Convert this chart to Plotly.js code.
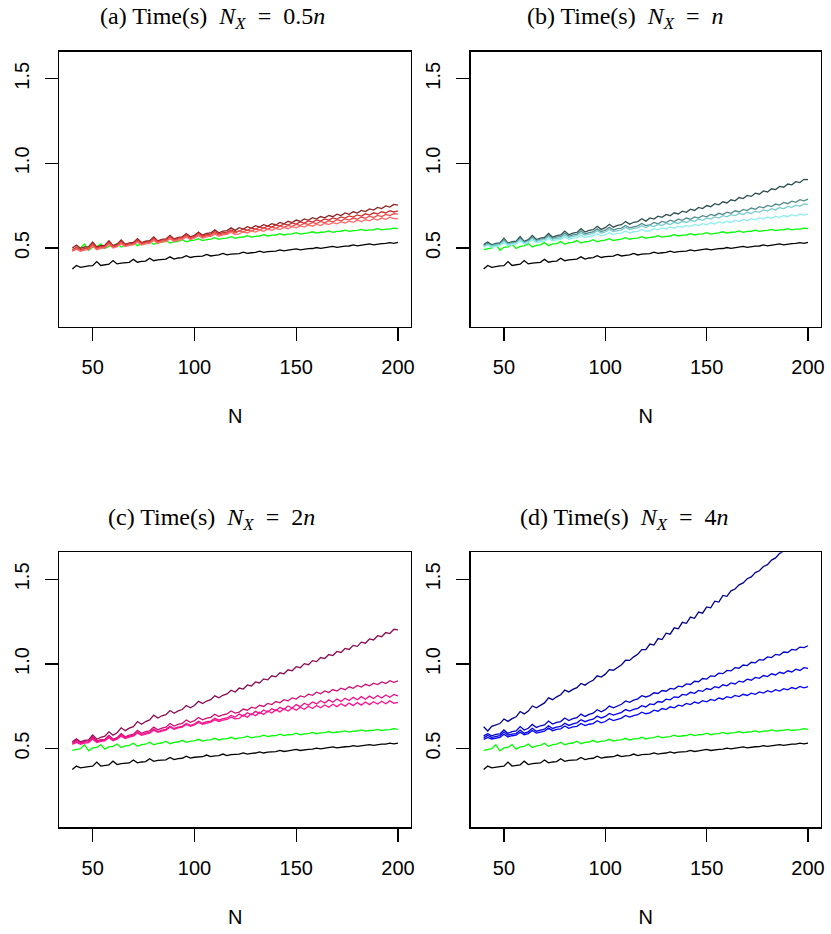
<!DOCTYPE html>
<html><head><meta charset="utf-8">
<script src="https://cdn.plot.ly/plotly-3.0.1.min.js"></script>
<style>html,body{margin:0;padding:0;background:#fff}#chart{width:831px;height:934px}</style>
</head><body><div id="chart"></div>
<script>
const N = [40,42,44,46,48,50,52,54,56,58,60,62,64,66,68,70,72,74,76,78,80,82,84,86,88,90,92,94,96,98,100,102,104,106,108,110,112,114,116,118,120,122,124,126,128,130,132,134,136,138,140,142,144,146,148,150,152,154,156,158,160,162,164,166,168,170,172,174,176,178,180,182,184,186,188,190,192,194,196,198,200];

const timeBlack = [.376,.397,.386,.391,.394,.396,.420,.397,.402,.404,
.426,.406,.411,.413,.415,.433,.416,.421,.423,.440,
.425,.430,.432,.434,.448,.435,.441,.443,.455,.444,
.449,.451,.452,.462,.453,.457,.459,.468,.459,.464,
.466,.467,.475,.468,.472,.474,.481,.474,.479,.481,
.482,.489,.483,.487,.489,.495,.489,.494,.496,.497,
.503,.498,.502,.504,.510,.504,.509,.511,.512,.518,
.513,.517,.519,.524,.519,.524,.526,.527,.532,.528,
.533];

const timeGreen = [.490,.496,.500,.523,.487,.504,.507,.524,.497,.510,
.513,.527,.506,.516,.519,.532,.514,.524,.526,.538,
.522,.531,.533,.544,.529,.537,.539,.549,.537,.544,
.546,.555,.544,.550,.552,.561,.551,.557,.558,.567,
.557,.563,.565,.573,.564,.569,.571,.579,.571,.576,
.577,.585,.577,.582,.583,.591,.582,.587,.589,.596,
.588,.593,.594,.601,.593,.598,.599,.605,.598,.603,
.604,.610,.603,.607,.608,.614,.607,.611,.612,.618,
.614];

// (a) N_X = 0.5n
const a1 = [.500,.517,.498,.506,.508,.535,.506,.514,.516,.543,
.514,.523,.547,.522,.530,.533,.555,.532,.540,.543,
.565,.542,.551,.554,.575,.554,.563,.566,.585,.566,
.575,.594,.576,.586,.589,.607,.590,.600,.603,.619,
.604,.620,.612,.626,.618,.632,.624,.638,.630,.644,
.636,.651,.643,.658,.650,.665,.657,.672,.664,.679,
.671,.686,.678,.693,.685,.700,.692,.707,.699,.714,
.706,.722,.715,.731,.724,.740,.733,.749,.742,.758,
.754];
const a2 = [.490,.505,.490,.498,.500,.525,.500,.508,.510,.535,
.510,.518,.540,.518,.525,.528,.548,.528,.535,.538,
.558,.538,.546,.549,.568,.550,.558,.561,.579,.562,
.570,.587,.571,.579,.582,.597,.583,.591,.594,.607,
.595,.599,.612,.605,.618,.611,.624,.617,.630,.623,
.636,.629,.642,.635,.648,.641,.654,.647,.660,.653,
.666,.659,.672,.665,.678,.671,.684,.677,.690,.683,
.696,.689,.702,.695,.708,.701,.714,.707,.720,.713,
.720];
const a3 = [.485,.498,.485,.493,.495,.518,.495,.503,.505,.528,
.505,.513,.533,.513,.520,.523,.541,.523,.530,.533,
.551,.533,.541,.543,.561,.544,.552,.555,.571,.555,
.563,.578,.564,.572,.575,.589,.576,.584,.587,.600,
.588,.602,.594,.607,.600,.613,.605,.618,.611,.623,
.616,.629,.622,.634,.627,.640,.633,.646,.638,.651,
.644,.657,.649,.662,.654,.667,.660,.672,.665,.677,
.670,.683,.675,.688,.680,.693,.686,.698,.691,.703,
.700];
const a4 = [.480,.493,.480,.488,.490,.511,.490,.498,.500,.521,
.500,.508,.526,.508,.515,.518,.535,.518,.525,.528,
.545,.528,.536,.538,.555,.539,.547,.550,.565,.550,
.558,.573,.558,.566,.569,.582,.569,.577,.580,.592,
.580,.584,.596,.589,.601,.594,.606,.599,.611,.604,
.616,.609,.621,.614,.626,.619,.631,.624,.636,.629,
.641,.633,.646,.638,.650,.643,.655,.647,.659,.652,
.664,.656,.668,.661,.673,.665,.677,.669,.682,.674,
.674];

// (b) N_X = n
const b1 = [.520,.535,.519,.528,.530,.558,.529,.538,.540,.568,
.539,.549,.574,.550,.559,.563,.586,.564,.573,.577,
.600,.578,.588,.592,.614,.594,.604,.608,.628,.610,
.620,.640,.623,.634,.638,.657,.641,.652,.656,.673,
.659,.678,.671,.688,.681,.698,.691,.708,.701,.718,
.711,.729,.722,.740,.733,.751,.744,.762,.755,.773,
.766,.785,.779,.798,.792,.811,.805,.824,.818,.837,
.831,.850,.845,.864,.859,.878,.873,.892,.887,.906,
.904];
const b2 = [.515,.528,.515,.523,.525,.550,.525,.533,.535,.560,
.535,.543,.566,.544,.552,.555,.576,.556,.564,.567,
.588,.569,.577,.581,.600,.583,.591,.595,.613,.597,
.605,.622,.606,.615,.618,.633,.619,.627,.631,.645,
.632,.636,.651,.643,.657,.650,.664,.656,.670,.663,
.677,.670,.684,.677,.691,.684,.698,.691,.705,.698,
.712,.705,.720,.713,.728,.721,.736,.729,.744,.737,
.752,.745,.760,.754,.769,.762,.777,.770,.786,.779,
.789];
const b3 = [.510,.521,.511,.518,.520,.541,.521,.528,.530,.551,
.531,.538,.557,.539,.546,.549,.567,.551,.557,.560,
.578,.562,.569,.573,.590,.575,.582,.585,.602,.588,
.595,.610,.597,.604,.607,.621,.609,.616,.619,.632,
.621,.634,.627,.640,.633,.646,.639,.652,.645,.658,
.651,.664,.658,.671,.664,.678,.671,.684,.677,.691,
.684,.697,.691,.704,.698,.711,.704,.718,.711,.725,
.718,.732,.725,.739,.732,.746,.740,.753,.747,.760,
.758];
const b4 = [.505,.515,.506,.512,.514,.532,.515,.521,.523,.541,
.524,.531,.547,.532,.538,.541,.556,.542,.548,.551,
.566,.552,.558,.561,.575,.562,.568,.571,.584,.572,
.578,.591,.579,.586,.588,.601,.589,.596,.598,.610,
.599,.602,.614,.607,.619,.612,.624,.617,.629,.622,
.634,.627,.639,.632,.644,.637,.649,.642,.654,.647,
.659,.651,.664,.656,.669,.661,.673,.666,.678,.671,
.683,.675,.688,.680,.692,.685,.697,.689,.701,.694,
.700];

// (c) N_X = 2n
const c1 = [.540,.558,.540,.549,.552,.580,.555,.567,.573,.599,
.579,.594,.623,.606,.621,.630,.660,.644,.660,.670,
.698,.681,.694,.701,.725,.709,.723,.731,.755,.741,
.755,.779,.766,.781,.789,.812,.800,.815,.823,.845,
.834,.858,.852,.876,.870,.894,.888,.912,.906,.930,
.924,.948,.942,.966,.960,.984,.978,1.002,.996,1.020,
1.014,1.038,1.032,1.056,1.050,1.074,1.068,1.092,1.086,1.110,
1.104,1.129,1.123,1.148,1.142,1.167,1.161,1.186,1.180,1.205,
1.202];
const c2 = [.535,.550,.535,.543,.545,.570,.545,.553,.555,.578,
.555,.565,.588,.570,.580,.585,.608,.590,.600,.605,
.627,.611,.621,.627,.648,.633,.643,.649,.669,.655,
.665,.684,.670,.680,.685,.703,.690,.700,.705,.722,
.710,.716,.734,.727,.745,.738,.756,.749,.767,.760,
.778,.771,.789,.782,.800,.793,.811,.804,.822,.815,
.833,.824,.841,.832,.849,.840,.857,.848,.865,.856,
.873,.864,.880,.871,.887,.878,.894,.885,.901,.892,
.900];
const c3 = [.530,.543,.531,.538,.540,.563,.541,.548,.550,.571,
.551,.560,.580,.565,.573,.578,.598,.583,.591,.596,
.615,.601,.609,.614,.632,.619,.627,.632,.649,.637,
.645,.662,.650,.659,.663,.679,.668,.677,.681,.696,
.686,.704,.692,.712,.700,.720,.708,.728,.716,.736,
.724,.744,.732,.752,.740,.760,.748,.768,.756,.776,
.764,.783,.769,.788,.774,.793,.779,.798,.784,.803,
.789,.807,.792,.810,.796,.814,.799,.817,.803,.820,
.811];
const c4 = [.525,.536,.526,.533,.535,.556,.536,.543,.545,.564,
.546,.555,.574,.560,.568,.573,.592,.578,.586,.591,
.609,.596,.604,.609,.626,.614,.622,.627,.643,.632,
.640,.655,.644,.652,.656,.670,.660,.668,.672,.686,
.676,.678,.698,.686,.706,.694,.714,.702,.722,.710,
.730,.717,.735,.722,.740,.727,.745,.732,.750,.737,
.755,.741,.758,.744,.762,.748,.765,.751,.769,.754,
.772,.757,.775,.760,.777,.763,.780,.765,.782,.768,
.773];

// (d) N_X = 4n
const d1 = [.629,.604,.632,.641,.648,.675,.661,.677,.688,.719,
.705,.722,.752,.741,.758,.770,.800,.789,.806,.818,
.846,.835,.850,.860,.885,.875,.892,.904,.930,.923,
.940,.967,.963,.982,.996,1.022,1.021,1.042,1.058,1.085,
1.085,1.118,1.112,1.150,1.144,1.182,1.176,1.214,1.208,1.246,
1.240,1.277,1.270,1.307,1.300,1.337,1.332,1.371,1.366,1.405,
1.400,1.432,1.443,1.468,1.479,1.504,1.515,1.540,1.551,1.576,
1.587,1.614,1.627,1.654,1.667,1.694,1.707,1.734,1.747,1.774,
1.787];
const d2 = [.575,.588,.576,.584,.587,.610,.590,.600,.605,.630,
.610,.620,.643,.625,.635,.640,.663,.645,.655,.660,
.681,.666,.677,.683,.704,.690,.702,.709,.730,.718,
.730,.751,.741,.754,.762,.782,.773,.786,.794,.813,
.805,.813,.830,.826,.843,.839,.856,.852,.869,.865,
.882,.879,.898,.895,.914,.911,.930,.927,.946,.943,
.962,.959,.978,.975,.994,.991,1.010,1.007,1.026,1.023,
1.042,1.038,1.057,1.053,1.071,1.068,1.086,1.082,1.100,1.097,
1.108];
const d3 = [.565,.578,.567,.574,.577,.598,.579,.586,.589,.610,
.591,.599,.620,.603,.611,.615,.635,.619,.627,.631,
.650,.637,.646,.652,.671,.659,.668,.674,.692,.681,
.690,.708,.698,.708,.714,.731,.722,.732,.738,.754,
.746,.764,.760,.778,.774,.792,.788,.806,.802,.820,
.816,.833,.827,.844,.838,.855,.849,.866,.860,.877,
.871,.888,.882,.899,.893,.910,.904,.921,.915,.932,
.926,.942,.935,.951,.944,.960,.953,.969,.962,.978,
.974];
const d4 = [.555,.566,.557,.564,.567,.585,.569,.576,.579,.597,
.581,.589,.607,.592,.599,.603,.621,.606,.613,.617,
.634,.620,.628,.632,.649,.636,.644,.648,.665,.652,
.660,.677,.666,.675,.680,.696,.686,.695,.700,.715,
.706,.711,.727,.721,.737,.731,.747,.741,.757,.751,
.767,.760,.775,.768,.783,.776,.791,.784,.799,.792,
.807,.800,.814,.807,.821,.814,.828,.821,.835,.828,
.842,.834,.848,.840,.854,.847,.861,.853,.867,.859,
.866];

const panelTitles = [
  '(a) Time(s)\u2002<i>N</i><sub><i>X</i></sub>\u2002=\u20020.5<i>n</i>',
  '(b) Time(s)\u2002<i>N</i><sub><i>X</i></sub>\u2002=\u2002<i>n</i>',
  '(c) Time(s)\u2002<i>N</i><sub><i>X</i></sub>\u2002=\u20022<i>n</i>',
  '(d) Time(s)\u2002<i>N</i><sub><i>X</i></sub>\u2002=\u20024<i>n</i>'
];
const xTickVals = [50, 100, 150, 200];
const xTickText = ['50', '100', '150', '200'];
const yTickVals = [0.5, 1.0, 1.5];
const yTickText = ['0.5', '1.0', '1.5'];
const xLabel = 'N';

const panelSeries = [[a1, a2, a3, a4], [b1, b2, b3, b4], [c1, c2, c3, c4], [d1, d2, d3, d4]];
const panelColors = [
  ['#8B2323', '#CD3333', '#EE4A4A', '#FF6A6A'],
  ['#2F4F4F', '#528B8B', '#79CDCD', '#8DEEEE'],
  ['#8B0A50', '#CD1076', '#EE1289', '#FF1493'],
  ['#00008B', '#0000CD', '#0000EE', '#0000FF']
];

const W = 831, H = 934;
const boxes = [
  {l: 59.3, r: 411, t: 51.7, b: 326.7},
  {l: 470.7, r: 821, t: 51.7, b: 326.7},
  {l: 59.3, r: 411, t: 552.3, b: 827.3},
  {l: 470.7, r: 821, t: 552.3, b: 827.3}
];
const titleCenters = [[213, 18], [625, 18], [211, 518.6], [624, 518.6]];

const LW = 1.3;
const traces = [];
const layout = {
  width: W, height: H, autosize: false,
  margin: {l: 0, r: 0, t: 0, b: 0},
  paper_bgcolor: '#fff', plot_bgcolor: '#fff',
  showlegend: false,
  annotations: []
};
const tickFont = {family: 'Liberation Sans, Arial, Helvetica, sans-serif', size: 20, color: '#000'};

for (let p = 0; p < 4; p++) {
  const sfx = p === 0 ? '' : String(p + 1);
  const xa = 'x' + sfx, ya = 'y' + sfx;
  const bx = boxes[p];
  const base = {x: N, xaxis: xa, yaxis: ya, mode: 'lines', hoverinfo: 'skip'};
  traces.push(Object.assign({}, base, {y: timeBlack, line: {color: '#000000', width: LW}}));
  traces.push(Object.assign({}, base, {y: timeGreen, line: {color: '#00FF00', width: LW}}));
  panelSeries[p].forEach((s, i) => {
    traces.push(Object.assign({}, base, {y: s, line: {color: panelColors[p][i], width: LW}}));
  });
  layout['xaxis' + sfx] = {
    domain: [bx.l / W, bx.r / W], anchor: ya,
    range: [33.6, 206.4], tickmode: 'array', tickvals: xTickVals, ticktext: xTickText,
    ticks: 'outside', ticklen: 13, tickwidth: LW, tickcolor: '#000',
    showline: true, mirror: true, linecolor: '#000', linewidth: LW,
    showgrid: false, zeroline: false, tickfont: tickFont, ticklabelstandoff: 9,
    automargin: false,
    title: {text: xLabel, font: tickFont, standoff: 32}
  };
  layout['yaxis' + sfx] = {
    domain: [1 - bx.b / H, 1 - bx.t / H], anchor: xa,
    range: [0.035, 1.66], tickmode: 'array', tickvals: yTickVals, ticktext: yTickText,
    tickangle: -90,
    ticks: 'outside', ticklen: 13, tickwidth: LW, tickcolor: '#000',
    showline: true, mirror: true, linecolor: '#000', linewidth: LW,
    showgrid: false, zeroline: false, tickfont: tickFont, ticklabelstandoff: 8,
    automargin: false
  };
  layout.annotations.push({
    text: panelTitles[p], xref: 'paper', yref: 'paper',
    x: titleCenters[p][0] / W, y: 1 - titleCenters[p][1] / H,
    xanchor: 'center', yanchor: 'middle', showarrow: false,
    font: {family: 'Liberation Serif, Times New Roman, serif', size: 24, color: '#000'}
  });
}

Plotly.newPlot('chart', traces, layout, {staticPlot: true, displayModeBar: false});
</script>
</body></html>
